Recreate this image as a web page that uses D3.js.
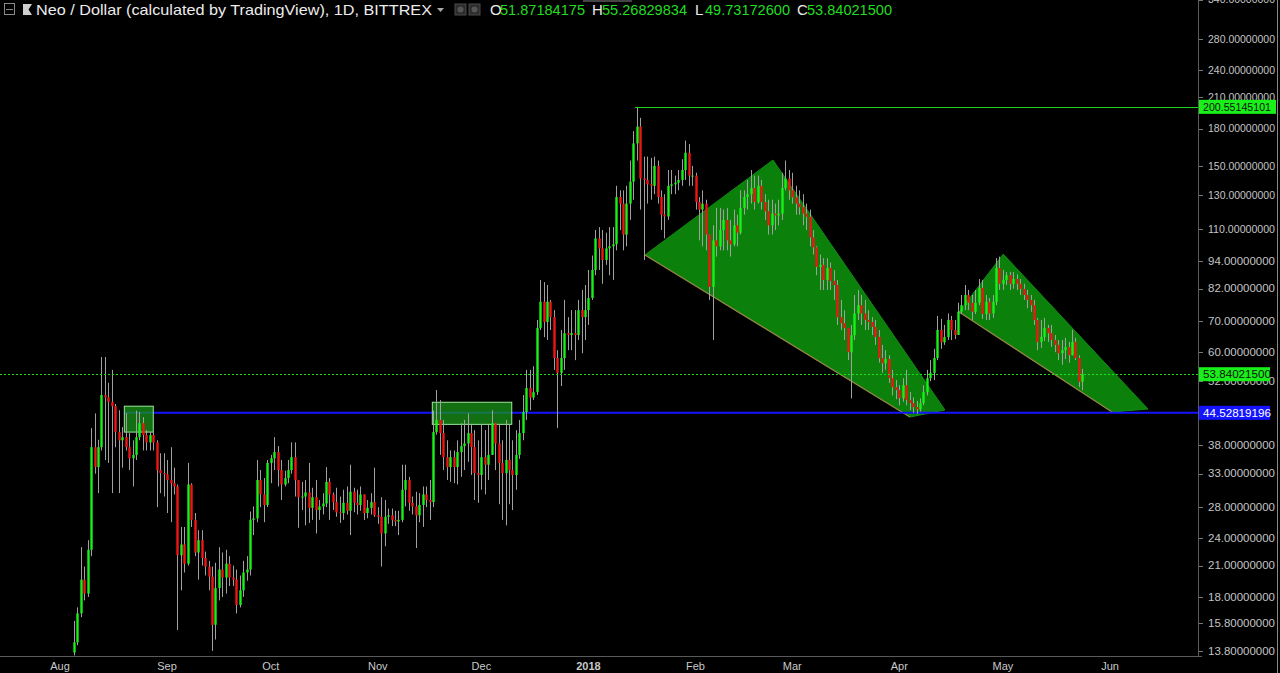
<!DOCTYPE html>
<html><head><meta charset="utf-8">
<script src="https://cdn.jsdelivr.net/npm/d3@7"></script>
<style>html,body{margin:0;padding:0;background:#000;overflow:hidden}</style>
</head><body>
<svg id="chart" width="1280" height="673"></svg>
<script>
// ---------------- DATA ----------------
const startDate = "2017-08-05";   // first visible daily candle
const opens = [
 13.7,14.4,16.6,19.6,18.3,22.7,37.6,34.1,37.6,48.6,48.0,47.0,46.0,40.5,38.9,39.5,37.6,35.6,36.2,39.5,42.3,39.9,38.5,39.9,38.5,33.6,33.1,
 32.9,32.0,31.5,31.0,22.1,23.3,21.2,31.3,26.3,22.4,23.8,21.8,20.9,19.9,15.7,18.8,20.6,19.8,21.2,19.8,19.6,17.3,18.6,20.3,20.6,26.3,26.5,32.0,29.8,28.3,
 34.8,35.6,36.7,33.6,31.3,32.3,33.6,35.8,32.0,29.4,29.5,30.1,27.9,29.4,27.6,28.1,28.5,31.7,29.8,28.7,27.3,27.2,28.6,27.5,30.2,28.6,28.3,29.8,27.2,27.9,28.7,
 26.9,26.7,24.6,26.7,26.9,26.3,26.1,26.3,30.5,32.0,28.6,28.1,26.9,28.3,29.8,29.0,28.7,40.5,43.0,40.3,35.8,34.1,35.8,34.1,36.7,37.8,38.3,40.3,37.6,33.1,
 32.8,35.8,34.5,36.2,42.3,38.3,34.8,33.1,35.3,33.6,32.8,36.2,40.3,44.7,50.3,48.0,49.3,67.6,76.9,69.6,76.9,71.3,58.3,54.2,58.3,65.9,65.3,65.9,65.3,73.8,71.3,
 73.8,78.3,89.9,105,100,94.4,100,101,102,128.7,124.6,107,124.6,138.8,167.5,182,141,140,137,136,150,128.7,118,117,136,137,138,140,147,160,143,
 143,125.5,121,124.5,107,82.7,104,101,109.4,115,104,102,112,108,122,128.7,130.5,134.5,125.5,136,125.5,120,112,118.6,117.6,118.6,134.5,141,
 133,128.5,124.6,122.4,118.6,116.8,105.5,100.5,91.3,92.2,85.6,90.8,85.2,83.5,71.3,69.2,67.6,60.0,65.2,72.6,75.6,72.6,70.3,69.6,68.0,64.7,58.3,56.8,58.0,52.8,50.5,
 49.8,47.9,51.0,47.4,46.7,45.8,45.3,46.7,49.3,52.8,54.2,58.3,66.9,63.0,64.6,70.3,66.9,65.3,73.2,75.6,79.5,76.5,73.2,76.5,82.3,72.4,76.9,72.6,76.9,90.8,
 84.0,85.6,87.6,84.0,86.0,84.0,81.9,79.5,77.6,75.6,70.3,63.1,64.7,67.6,65.9,63.7,62.2,59.7,60.6,61.5,59.1,63.1,58.3,51.87184175
];
const highs = [
 16.0,17.1,23.0,20.9,23.8,41.3,44.4,39.0,58.6,58.6,51.6,55.0,46.5,45.1,41.5,44.5,40.3,38.9,45.0,44.7,43.6,40.9,40.5,40.5,38.9,36.5,36.5,
 35.3,37.6,34.0,31.3,25.4,25.4,34.8,31.5,27.2,25.0,25.0,22.5,21.5,20.9,21.3,23.0,22.4,22.7,22.0,21.0,20.6,20.0,21.5,22.0,27.4,28.1,35.3,33.6,32.3,35.3,
 36.2,39.5,37.8,35.3,33.5,35.3,38.5,38.5,32.0,31.7,32.0,34.8,30.8,32.0,29.0,30.0,34.1,32.3,30.1,30.8,29.5,30.5,31.0,34.5,30.8,30.5,31.0,29.8,29.0,30.0,34.0,
 28.0,29.4,29.0,27.8,27.8,27.5,27.5,34.5,34.5,32.5,29.5,30.2,30.0,31.0,31.0,32.0,45.0,49.8,47.4,43.0,38.9,37.0,37.0,38.9,42.3,43.0,44.4,42.0,40.9,38.9,
 42.0,40.9,42.0,45.1,42.3,42.0,38.9,43.0,42.0,38.9,40.9,43.0,48.6,55.0,55.0,56.0,70.3,85.6,84.7,83.5,77.6,73.8,60.6,66.9,77.6,71.3,73.8,73.8,77.6,81.5,83.5,
 89.9,96.5,109.5,111,109.4,108,111,111,136,133,133,136,154,178,200.55145101,190,157,157,156,157,154,133,130.5,147,147,143,147,155,170,167,150,
 145,128.7,133,127,107,112,122,122,121,122,115,121,118,133,133,140,147,143,143,140,130.5,127,127,124.6,127,145,154,147,
 145,136,133,130.5,124.6,121,109.4,101,97,95.3,95.3,93.3,89.9,85.6,77.6,73.8,66.9,68.6,79.5,81.5,79.5,77.6,73.8,71.3,70.3,66.9,62.2,60.6,59.1,55.0,52.3,
 51.0,52.8,55.0,49.3,48.0,47.2,47.8,51.0,55.0,57.7,61.0,71.7,70.7,68.6,72.6,71.7,70.3,76.5,79.5,83.5,81.5,79.5,81.5,86.0,85.6,79.5,78.3,79.5,95.3,96.0,
 89.9,89.0,89.0,89.0,88.0,86.0,84.0,81.5,79.5,77.6,71.0,70.3,71.0,68.6,68.6,65.3,63.7,63.7,64.4,63.1,67.0,64.4,59.1,55.26829834
];
const lows = [
 13.5,14.2,16.3,17.7,18.0,22.0,33.0,30.0,37.0,35.3,34.8,30.0,37.6,30.0,34.0,37.0,33.6,31.0,35.3,38.9,37.0,37.0,37.0,37.0,28.0,30.0,29.5,
 27.2,26.0,29.8,15.3,18.6,20.3,21.0,25.4,22.0,19.6,21.0,20.0,18.6,13.8,14.6,17.7,18.0,18.3,19.0,19.0,16.6,17.1,18.0,19.5,20.0,24.4,26.0,28.0,26.0,28.0,
 31.5,33.6,31.0,29.0,31.0,31.5,33.0,29.5,25.3,27.6,25.6,25.9,26.3,24.6,26.3,27.0,28.0,26.3,27.6,26.7,25.9,26.3,27.0,24.4,27.3,27.0,27.5,26.3,26.5,27.0,26.7,
 25.8,20.9,23.1,25.8,25.5,25.5,24.4,26.0,28.1,27.5,27.0,22.9,26.0,25.4,28.0,26.3,28.0,40.0,36.2,33.6,32.0,31.7,31.5,31.3,32.5,33.6,35.0,32.8,29.0,28.6,
 30.5,29.8,32.0,36.2,33.6,28.4,26.3,25.6,28.4,27.6,30.5,35.5,38.9,43.0,45.1,47.4,48.6,66.9,64.6,63.7,66.9,55.0,41.3,50.8,55.0,60.6,60.6,57.7,63.7,59.7,63.7,
 68.6,77.6,87.6,89.9,84,92.2,87.6,85.6,99,109.4,99,101,115,127,154,121,94.4,124.6,127,130.5,124.6,109.4,105,115,130.5,130.5,133,136,140,136,136,
 121,104,101,99,77.6,63.7,96,99,99,99,96,101,101,107,118,121,124.6,121,124.6,121,115,107,107,109.4,112,115,133,127,
 124.6,118,118,112,109.4,101,97,87.6,81.5,81.5,81.5,81.5,77.6,68.6,66.9,63.7,57.7,47.8,63.7,70.3,68.6,66.9,66.9,65.3,62.2,57.0,54.2,55.0,51.6,48.5,47.6,
 46.2,47.0,46.2,45.1,44.5,44.3,44.8,46.2,48.5,52.0,52.3,57.7,61.0,62.2,63.7,63.7,64.0,65.3,72.4,73.8,73.8,70.3,72.4,75.6,70.7,70.3,70.3,71.0,75.6,81.5,
 81.5,83.5,81.5,82.0,81.5,79.5,77.6,74.5,73.2,68.6,60.6,61.3,63.4,63.1,61.6,60.0,57.7,56.4,58.0,57.0,59.1,57.7,50.5,49.73172600
];
const closes = [
 14.4,16.6,19.6,18.3,22.7,37.6,34.1,37.6,48.6,48.0,47.0,46.0,40.5,38.9,39.5,37.6,35.6,36.2,39.5,42.3,39.9,38.5,39.9,38.5,33.6,33.1,32.9,
 32.0,31.5,31.0,22.1,23.3,21.2,31.3,26.3,22.4,23.8,21.8,20.9,19.9,15.7,18.8,20.6,19.8,21.2,19.8,19.6,17.3,18.6,20.3,20.6,26.3,26.5,32.0,29.8,28.3,34.8,
 35.6,36.7,33.6,31.3,32.3,33.6,35.8,32.0,29.4,29.5,30.1,27.9,29.4,27.6,28.1,28.5,31.7,29.8,28.7,27.3,27.2,28.6,27.5,30.2,28.6,28.3,29.8,27.2,27.9,28.7,26.9,
 26.7,24.6,26.7,26.9,26.3,26.1,26.3,30.5,32.0,28.6,28.1,26.9,28.3,29.8,29.0,28.7,40.5,43.0,40.3,35.8,34.1,35.8,34.1,36.7,37.8,38.3,40.3,37.6,33.1,32.8,
 35.8,34.5,36.2,42.3,38.3,34.8,33.1,35.3,33.6,32.8,36.2,40.3,44.7,50.3,48.0,49.3,67.6,76.9,69.6,76.9,71.3,58.3,54.2,58.3,65.9,65.3,65.9,65.3,73.8,71.3,73.8,
 78.3,89.9,105,100,94.4,100,101,102,128.7,124.6,107,124.6,138.8,167.5,182,141,140,137,136,150,128.7,118,117,136,137,138,140,147,160,143,143,
 125.5,121,124.5,107,82.7,104,101,109.4,115,104,102,112,108,122,128.7,130.5,134.5,125.5,136,125.5,120,112,118.6,117.6,118.6,134.5,141,133,
 128.5,124.6,122.4,118.6,116.8,105.5,100.5,91.3,92.2,85.6,90.8,85.2,83.5,71.3,69.2,67.6,60.0,65.2,72.6,75.6,72.6,70.3,69.6,68.0,64.7,58.3,56.8,58.0,52.8,50.5,49.8,
 47.9,51.0,47.4,46.7,45.8,45.3,46.7,49.3,52.8,54.2,58.3,66.9,63.0,64.6,70.3,66.9,65.3,73.2,75.6,79.5,76.5,73.2,76.5,82.3,72.4,76.9,72.6,76.9,90.8,84.0,
 85.6,87.6,84.0,86.0,84.0,81.9,79.5,77.6,75.6,70.3,63.1,64.7,67.6,65.9,63.7,62.2,59.7,60.6,61.5,59.1,63.1,58.3,51.87184175,53.84021500
];
const monthTicks = ["2017-08-01","2017-09-01","2017-10-01","2017-11-01","2017-12-01","2018-01-01","2018-02-01","2018-03-01","2018-04-01","2018-05-01","2018-06-01"];
const monthLabels = ["Aug","Sep","Oct","Nov","Dec","2018","Feb","Mar","Apr","May","Jun"];
const priceTicks = [13.8,15.8,18,21,24,28,33,38,52,60,70,82,94,110,130,150,180,210,240,280,340];
// drawings
const resistance = 200.55145101, resistanceStart = "2018-01-14T12:00:00Z";
const support = 44.52819196, supportStart = "2017-08-19T12:00:00Z";
const lastPrice = 53.84021500;
const zones = [["2017-08-19T15:00:00Z","2017-08-28T00:00:00Z",46.0,40.5],["2017-11-16T19:00:00Z","2017-12-09T19:00:00Z",46.9,42.07]];
const wedge1 = [["2018-01-17T09:00:00Z",96.8],["2018-02-23T10:00:00Z",154.4],["2018-04-14T05:00:00Z",45.15],["2018-04-04T02:00:00Z",43.62]];
const wedge2 = [["2018-04-18T07:00:00Z",73.1],["2018-05-01T02:00:00Z",97.2],["2018-06-12T00:00:00Z",45.37],["2018-06-01T14:00:00Z",44.7]];
const header = {title:"Neo / Dollar (calculated by TradingView), 1D, BITTREX", O:"51.87184175", H:"55.26829834", L:"49.73172600", C:"53.84021500"};

// ---------------- CHART ----------------
const W = 1280, H = 673, plotR = 1198, plotB = 656;
const FONT = "'Liberation Sans Narrow','Arial Narrow','Liberation Sans',Arial,sans-serif";
const x = d3.scaleUtc().domain([new Date("2017-08-01T00:00:00Z"), new Date("2018-06-01T00:00:00Z")]).range([60, 1110]);
const y = d3.scaleLog().domain([13.53, 339.2]).range([655, 0]);
const svg = d3.select("#chart");
svg.append("rect").attr("width", W).attr("height", H).attr("fill", "#000");
svg.append("defs").append("clipPath").attr("id", "plot")
  .append("rect").attr("x", 0).attr("y", 0).attr("width", plotR).attr("height", plotB);
const g = svg.append("g").attr("clip-path", "url(#plot)");

const t0 = Date.parse(startDate + "T00:00:00Z");
const n = Math.min(opens.length, highs.length, lows.length, closes.length);
const candles = d3.range(n).map(i => ({t: new Date(t0 + i * 864e5), o: opens[i], h: highs[i], l: lows[i], c: closes[i]}));

// wedges
const line = d3.line().x(d => x(new Date(d[0]))).y(d => y(d[1]));
[wedge1, wedge2].forEach(w => {
  g.append("path").attr("d", line(w) + "Z").attr("fill", "#0b800b").attr("stroke", "#128c12").attr("stroke-width", 1);
  g.append("path").attr("d", line([w[3], w[0]])).attr("fill", "none").attr("stroke", "#9a8048").attr("stroke-width", 1.2);
});

// support line (under zones)
g.append("line").attr("x1", x(new Date(supportStart))).attr("x2", plotR)
  .attr("y1", y(support)).attr("y2", y(support)).attr("stroke", "#1414ff").attr("stroke-width", 2);

// zones
zones.forEach(z => {
  const x1 = x(new Date(z[0])), x2 = x(new Date(z[1]));
  g.append("rect").attr("x", x1).attr("y", y(z[2])).attr("width", x2 - x1).attr("height", y(z[3]) - y(z[2]))
    .attr("fill", "rgba(24,150,24,0.75)").attr("stroke", "#9be89b").attr("stroke-width", 1);
});

// candles
const cg = g.append("g");
cg.selectAll("line.wick").data(candles).join("line").attr("class", "wick")
  .attr("x1", d => Math.round(x(d.t)) + 0.5).attr("x2", d => Math.round(x(d.t)) + 0.5)
  .attr("y1", d => y(Math.max(d.h, d.o, d.c))).attr("y2", d => y(Math.min(d.l, d.o, d.c)))
  .attr("stroke", "#a0a0a0").attr("stroke-width", 1);
cg.selectAll("rect.body").data(candles).join("rect").attr("class", "body")
  .attr("x", d => Math.round(x(d.t)) - 0.7).attr("width", 2.4)
  .attr("y", d => y(Math.max(d.o, d.c)))
  .attr("height", d => Math.max(1, y(Math.min(d.o, d.c)) - y(Math.max(d.o, d.c))))
  .attr("fill", d => d.c >= d.o ? "#19f019" : "#f01414");

// last price dotted line & resistance line
g.append("line").attr("x1", 0).attr("x2", plotR).attr("y1", Math.round(y(lastPrice)) + 0.5).attr("y2", Math.round(y(lastPrice)) + 0.5)
  .attr("stroke", "#1ee01e").attr("stroke-width", 1).attr("stroke-dasharray", "2,2");
g.append("line").attr("x1", x(new Date(resistanceStart))).attr("x2", plotR)
  .attr("y1", Math.round(y(resistance)) + 0.5).attr("y2", Math.round(y(resistance)) + 0.5)
  .attr("stroke", "#1ed21e").attr("stroke-width", 1.2);

// axes frame
svg.append("line").attr("x1", plotR + 0.5).attr("x2", plotR + 0.5).attr("y1", 0).attr("y2", plotB + 1).attr("stroke", "#5a5a5a");
svg.append("line").attr("x1", 0).attr("x2", plotR + 4).attr("y1", plotB + 0.5).attr("y2", plotB + 0.5).attr("stroke", "#5a5a5a");
svg.append("line").attr("x1", 1277.5).attr("x2", 1277.5).attr("y1", 0).attr("y2", H).attr("stroke", "#8a8a8a");

// y axis
const ya = svg.append("g");
priceTicks.forEach(p => {
  const yy = y(p);
  ya.append("line").attr("x1", plotR + 1).attr("x2", plotR + 5).attr("y1", Math.round(yy) + 0.5).attr("y2", Math.round(yy) + 0.5).attr("stroke", "#777");
  ya.append("text").attr("x", 1208).attr("y", yy).attr("dy", "0.35em").attr("font-family", "'Liberation Sans',Arial,sans-serif")
    .attr("font-size", 10.5).attr("fill", "#c4c4c4").attr("textLength", 67).attr("lengthAdjust", "spacingAndGlyphs").text(p.toFixed(8));
});
function priceTag(v, bg, fg, w) {
  const yy = y(v);
  ya.append("rect").attr("x", plotR + 1).attr("y", yy - 7).attr("width", w).attr("height", 14).attr("fill", bg);
  ya.append("text").attr("x", 1203).attr("y", yy).attr("dy", "0.36em").attr("font-family", "'Liberation Sans',Arial,sans-serif")
    .attr("font-size", 10.5).attr("fill", fg).attr("textLength", 68).attr("lengthAdjust", "spacingAndGlyphs").text(v.toFixed(8));
}
priceTag(resistance, "#19f019", "#111", 77);
priceTag(lastPrice, "#19f019", "#111", 71);
priceTag(support, "#1414ff", "#fff", 71);

// x axis
monthTicks.forEach((m, i) => {
  const xx = x(new Date(m + "T00:00:00Z"));
  svg.append("text").attr("x", xx).attr("y", 666).attr("text-anchor", "middle").attr("dy", "0.35em")
    .attr("font-family", FONT).attr("font-size", 11).attr("fill", "#c8c8c8")
    .attr("font-weight", monthLabels[i] === "2018" ? "bold" : "normal").text(monthLabels[i]);
});

// header
const hd = svg.append("g");
hd.append("rect").attr("x", 583).attr("y", 0).attr("width", 49).attr("height", 2).attr("fill", "#444");
hd.append("rect").attr("x", 4.5).attr("y", 3.5).attr("width", 10).attr("height", 11).attr("fill", "none").attr("stroke", "#8a8a8a");
hd.append("line").attr("x1", 6).attr("x2", 13).attr("y1", 9.5).attr("y2", 9.5).attr("stroke", "#8a8a8a");
hd.append("polygon").attr("points", "23,4 32,4 28.5,9.5 32,15 23,15").attr("fill", "#cfcfcf");
hd.append("text").attr("x", 36).attr("y", 15).attr("font-family", FONT).attr("font-size", 15).attr("fill", "#ececec")
  .attr("textLength", 396).attr("lengthAdjust", "spacingAndGlyphs").text(header.title);
hd.append("polygon").attr("points", "437,8 444,8 440.5,12").attr("fill", "#aaa");
[455, 469].forEach(px => {
  hd.append("rect").attr("x", px).attr("y", 4).attr("width", 11).attr("height", 11).attr("fill", "#2c2c2c").attr("stroke", "#4a4a4a");
  hd.append("circle").attr("cx", px + 5.5).attr("cy", 9.5).attr("r", 3).attr("fill", "#555");
});
[["O", 490, header.O], ["H", 592, header.H], ["L", 695, header.L], ["C", 797, header.C]].forEach(([k, px, v]) => {
  hd.append("text").attr("x", px).attr("y", 15).attr("font-family", FONT).attr("font-size", 15).attr("fill", "#ececec").text(k);
  hd.append("text").attr("x", px + 10).attr("y", 15).attr("font-family", FONT).attr("font-size", 15).attr("fill", "#22dd22")
    .attr("textLength", 85).attr("lengthAdjust", "spacingAndGlyphs").text(v);
});
</script>
</body></html>
